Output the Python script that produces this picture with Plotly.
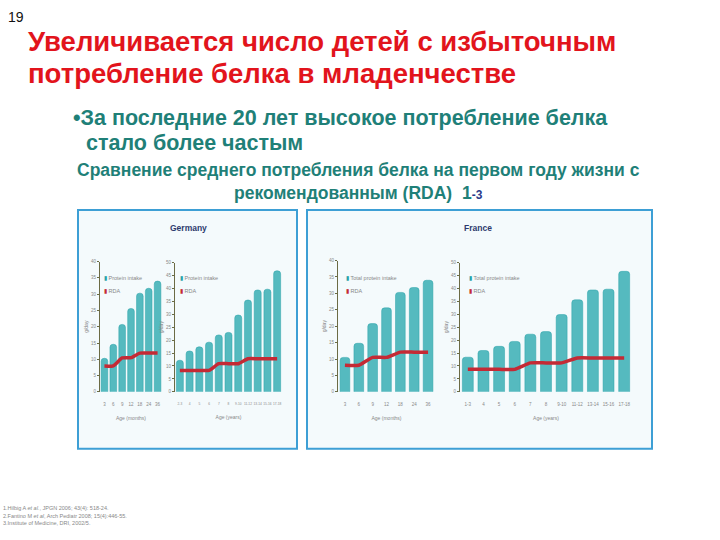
import plotly.graph_objects as go

W, H = 720, 540

# ---- data ----
de_months = ["3", "6", "9", "12", "18", "24", "36"]
de_months_intake = [10.3, 14.6, 20.7, 25.6, 30.3, 31.8, 34.0]
de_months_rda = [7.9, 8.0, 10.4, 10.5, 11.9, 11.9, 11.9]

de_years = ["2-3", "4", "5", "6", "7", "8", "9-10", "11-12", "13-14", "15-16", "17-18"]
de_years_intake = [12.2, 15.8, 17.4, 19.2, 22.0, 23.0, 29.7, 35.5, 39.4, 39.7, 46.8]
de_years_rda = [8.3, 8.3, 8.3, 8.3, 10.9, 10.9, 10.9, 12.8, 12.8, 12.8, 12.8]

fr_months = ["3", "6", "9", "12", "18", "24", "36"]
fr_months_intake = [10.5, 14.8, 20.8, 25.6, 30.3, 31.8, 34.0]
fr_months_rda = [8.1, 8.1, 10.5, 10.5, 12.1, 12.1, 12.1]

fr_years = ["1-3", "4", "5", "6", "7", "8", "9-10", "11-12", "13-14", "15-16", "17-18"]
fr_years_intake = [13.4, 16.0, 17.6, 19.5, 22.3, 23.3, 29.9, 35.6, 39.4, 39.7, 46.6]
fr_years_rda = [8.7, 8.7, 8.7, 8.7, 11.2, 11.2, 11.2, 13.1, 13.1, 13.1, 13.1]

# ---- styles ----
BAR = "#55babf"
BAR_LINE = "#2aa3a8"
RDA_C = "#c42a35"
TEAL = "#1f8078"
RED = "#e2141c"
NAVY = "#2e3a6e"
GREY = "#888888"


def px_x(x):
    return x / W


def px_y(y):
    return 1 - y / H


charts = [
    (de_months, de_months_intake, de_months_rda, 100, 162, 262, 40, 0.25,
     "Protein intake", "RDA", "Age (months)", (102, 279), 4.5),
    (de_years, de_years_intake, de_years_rda, 175, 282, 263, 50, 0.28,
     "Protein intake", "RDA", "Age (years)", (178, 279), 3.2),
    (fr_months, fr_months_intake, fr_months_rda, 338, 435, 261, 40, 0.3,
     "Total protein intake", "RDA", "Age (months)", (344, 279), 4.5),
    (fr_years, fr_years_intake, fr_years_rda, 460, 632, 263, 50, 0.3,
     "Total protein intake", "RDA", "Age (years)", (467, 279), 4.5),
]

fig = go.Figure()
layout_axes = {}
ann = []
YBOT = 393.5


def text(x, y, s, size, color, family="Liberation Sans", xanchor="left", bold=True):
    ann.append(dict(
        x=px_x(x), y=px_y(y), xref="paper", yref="paper", showarrow=False,
        text=f"<b>{s}</b>" if bold else s, xanchor=xanchor, yanchor="middle",
        font=dict(size=size, color=color, family=family),
    ))


for i, (labels, intake, rda, x0, x1, ytop, ymax, gap, iname, rname, xt, lxy, xfs) in enumerate(charts):
    n = i + 1
    xa = "x" if n == 1 else f"x{n}"
    ya = "y" if n == 1 else f"y{n}"
    fig.add_trace(go.Bar(
        x=list(range(len(labels))), y=intake, name=iname,
        marker=dict(color=BAR, line=dict(color=BAR_LINE, width=0.5), cornerradius=3),
        xaxis=xa, yaxis=ya, width=1 - gap, showlegend=False,
    ))
    fig.add_trace(go.Scatter(
        x=list(range(len(labels))), y=rda, name=rname, mode="lines",
        line=dict(color=RDA_C, width=3.5, shape="spline", smoothing=0.5),
        xaxis=xa, yaxis=ya, showlegend=False,
    ))
    xkey = "xaxis" if n == 1 else f"xaxis{n}"
    ykey = "yaxis" if n == 1 else f"yaxis{n}"
    layout_axes[xkey] = dict(
        domain=[px_x(x0), px_x(x1)], anchor=ya,
        range=[-0.5, len(labels) - 0.5],
        tickmode="array", tickvals=list(range(len(labels))), ticktext=labels,
        tickfont=dict(size=xfs, color=GREY, family="Liberation Sans"), tickangle=0,
        showgrid=False, showline=False, zeroline=False,
        ticks="outside", ticklen=8, tickcolor="rgba(0,0,0,0)",
        title=dict(text=xt, font=dict(size=5, color=GREY), standoff=10),
    )
    layout_axes[ykey] = dict(
        domain=[px_y(YBOT), px_y(ytop)], anchor=xa,
        range=[0, ymax], dtick=5, tickfont=dict(size=4.5, color=GREY, family="Liberation Sans"),
        showgrid=False, zeroline=False, showline=True, linecolor="#6b6b45", linewidth=1,
        ticks="outside", ticklen=2, tickcolor="#6b6b45",
        title=dict(text="g/day", font=dict(size=5, color=GREY), standoff=2),
    )
    text(lxy[0], lxy[1], f"<span style='color:{BAR_LINE}'>▮</span> {iname}", 5.5, GREY, bold=False)
    text(lxy[0], lxy[1] + 13, f"<span style='color:{RDA_C}'>▮</span> {rname}", 5.5, GREY, bold=False)

shapes = [
    dict(type="rect", xref="paper", yref="paper", x0=px_x(78), x1=px_x(297),
         y0=px_y(451), y1=px_y(210), fillcolor="#f4fafc", line=dict(color="#3d9fd5", width=2), layer="below"),
    dict(type="rect", xref="paper", yref="paper", x0=px_x(307), x1=px_x(652),
         y0=px_y(451), y1=px_y(210), fillcolor="#f4fafc", line=dict(color="#3d9fd5", width=2), layer="below"),
]

text(6, 15, "19", 14, "#111111", bold=False)
text(26, 40, "Увеличивается число детей с избыточным", 27.5, RED)
text(26, 72, "потребление белка в младенчестве", 27.5, RED)
text(71, 117, "•За последние 20 лет высокое потребление белка", 21.5, TEAL)
text(84, 142, "стало более частым", 21.5, TEAL)
text(358, 170, "Сравнение среднего потребления белка на первом году жизни с", 17.5, TEAL, xanchor="center")
text(358, 193, "рекомендованным (RDA)  1<span style='font-size:12px;color:#2b3a8a'>-3</span>", 17.5, TEAL, xanchor="center")
text(188, 228, "Germany", 8.5, NAVY, xanchor="center")
text(478, 228, "France", 8.5, NAVY, xanchor="center")
text(1, 511, "1.Hilbig A <i>et al.</i>, JPGN 2006; 43(4): 518-24.", 5.5, GREY, bold=False)
text(1, 518.5, "2.Fantino M <i>et al</i>, Arch Pediatr 2008; 15(4):446-55.", 5.5, GREY, bold=False)
text(1, 526, "3.Institute of Medicine, DRI, 2002/5.", 5.5, GREY, bold=False)

fig.update_layout(
    width=W, height=H, margin=dict(l=0, r=0, t=0, b=0),
    paper_bgcolor="white", plot_bgcolor="rgba(0,0,0,0)",
    showlegend=False, shapes=shapes, annotations=ann,
    font=dict(family="Liberation Sans"),
    barmode="overlay",
    **layout_axes,
)

fig.write_html(
    "out.html",
    config={"displayModeBar": False},
    post_script="document.body.style.margin='0';document.body.style.overflow='hidden';",
)
